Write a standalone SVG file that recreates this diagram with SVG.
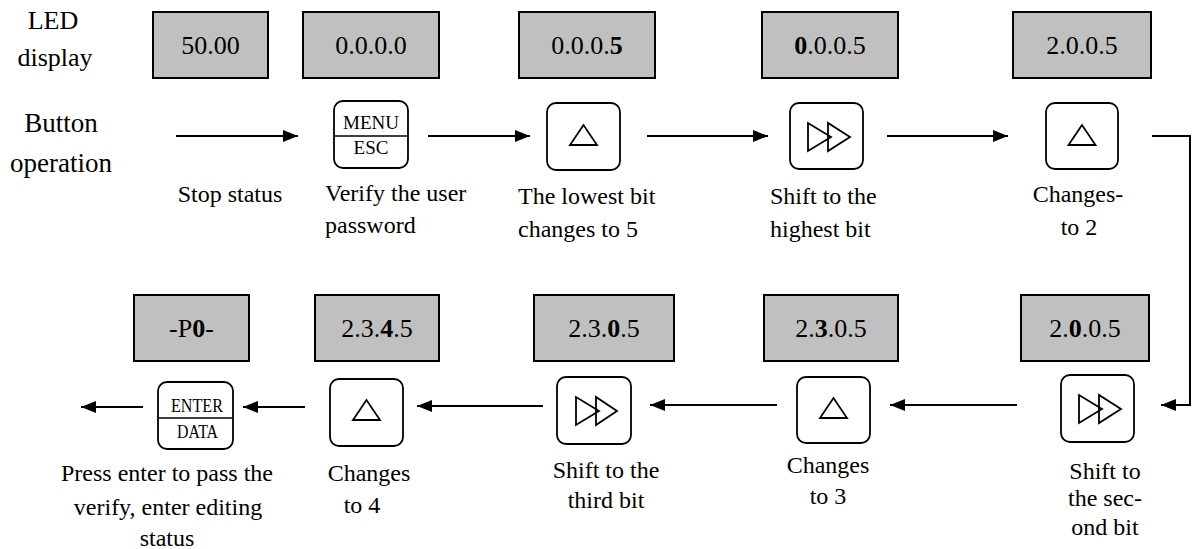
<svg xmlns="http://www.w3.org/2000/svg" width="1195" height="549" viewBox="0 0 1195 549" font-family="'Liberation Serif', 'Times New Roman', serif">
<defs>
<style>
.lbl,.hdr,.ledt,.key{font-family:'Liberation Serif','Times New Roman',serif}
.lbl{font-size:24px}
.hdr{font-size:26px;text-anchor:middle}
.led{fill:#c0c0c0;stroke:#000;stroke-width:2}
.ledt{font-size:26px;text-anchor:middle}
.btn{fill:#fff;stroke:#000;stroke-width:1.8}
.sym{fill:none;stroke:#000;stroke-width:1.8;stroke-linejoin:miter}
.key{font-size:19px;text-anchor:middle}
.mid{text-anchor:middle}
.con{fill:none;stroke:#000;stroke-width:2}
</style>
<marker id="ah" viewBox="0 0 15 12" refX="15" refY="6" markerWidth="15" markerHeight="12" markerUnits="userSpaceOnUse" orient="auto">
<path d="M0,0 L15,6 L0,12 Z" fill="#000"/>
</marker>
</defs>
<rect width="1195" height="549" fill="#fff"/>

<g id="headers" font-family="'Liberation Serif', serif">
<text class="hdr" x="53" y="29">LED</text>
<text class="hdr" x="55" y="66">display</text>
<text class="hdr" x="61" y="132" style="font-size:27px">Button</text>
<text class="hdr" x="61" y="172" style="font-size:27px">operation</text>
</g>

<g id="led1"><rect class="led" x="153" y="12" width="115" height="66"/><text class="ledt" x="210.5" y="54">50.00</text></g>
<g id="led2"><rect class="led" x="303" y="12" width="136" height="66"/><text class="ledt" x="371" y="54">0.0.0.0</text></g>
<g id="led3"><rect class="led" x="519" y="12" width="136" height="66"/><text class="ledt" x="587" y="54">0.0.0.<tspan font-weight="bold">5</tspan></text></g>
<g id="led4"><rect class="led" x="762" y="12" width="136" height="66"/><text class="ledt" x="830" y="54"><tspan font-weight="bold">0</tspan>.0.0.5</text></g>
<g id="led5"><rect class="led" x="1013" y="12" width="138" height="66"/><text class="ledt" x="1082" y="54">2.0.0.5</text></g>

<g id="led6"><rect class="led" x="1021" y="295" width="128" height="66"/><text class="ledt" x="1085" y="337">2.<tspan font-weight="bold">0</tspan>.0.5</text></g>
<g id="led7"><rect class="led" x="764" y="295" width="134" height="66"/><text class="ledt" x="831" y="337">2.<tspan font-weight="bold">3</tspan>.0.5</text></g>
<g id="led8"><rect class="led" x="534" y="295" width="140" height="66"/><text class="ledt" x="604" y="337">2.3.<tspan font-weight="bold">0</tspan>.5</text></g>
<g id="led9"><rect class="led" x="315" y="295" width="124" height="66"/><text class="ledt" x="377" y="337">2.3.<tspan font-weight="bold">4</tspan>.5</text></g>
<g id="led10"><rect class="led" x="134" y="295" width="115" height="66"/><text class="ledt" x="191.5" y="337">-P<tspan font-weight="bold">0</tspan>-</text></g>

<g id="btn-menu">
<rect class="btn" x="334" y="101" width="74" height="67" rx="9"/>
<line x1="335" y1="136" x2="407" y2="136" stroke="#000" stroke-width="1.5"/>
<text class="key" x="371" y="129">MENU</text>
<text class="key" x="371" y="154">ESC</text>
</g>
<g id="btn-up1">
<rect class="btn" x="547" y="103" width="73" height="67" rx="9"/>
<polygon class="sym" points="583.5,125 570,145 597,145"/>
</g>
<g id="btn-shift1">
<rect class="btn" x="790" y="103" width="73" height="66" rx="9"/>
<polygon class="sym" points="808,123 808,151 831,137"/>
<polygon class="sym" points="828,123 828,151 850,137"/>
</g>
<g id="btn-up2">
<rect class="btn" x="1046" y="103" width="72" height="66" rx="9"/>
<polygon class="sym" points="1082,125 1068.5,145 1095.5,145"/>
</g>

<g id="btn-shift2">
<rect class="btn" x="1061" y="375" width="73" height="67" rx="9"/>
<polygon class="sym" points="1079,395 1079,423 1102,409"/>
<polygon class="sym" points="1099,395 1099,423 1121,409"/>
</g>
<g id="btn-up3">
<rect class="btn" x="797" y="377" width="73" height="66" rx="9"/>
<polygon class="sym" points="833.5,398 820,418 847,418"/>
</g>
<g id="btn-shift3">
<rect class="btn" x="557" y="377" width="74" height="67" rx="9"/>
<polygon class="sym" points="576,397 576,425 599,411"/>
<polygon class="sym" points="596,397 596,425 617,411"/>
</g>
<g id="btn-up4">
<rect class="btn" x="330" y="379" width="73" height="67" rx="9"/>
<polygon class="sym" points="366.5,400 353,420 380,420"/>
</g>
<g id="btn-enter">
<rect class="btn" x="158" y="382" width="75" height="67" rx="9"/>
<line x1="159" y1="418" x2="232" y2="418" stroke="#000" stroke-width="1.5"/>
<text class="key" x="197" y="412" textLength="52" lengthAdjust="spacingAndGlyphs">ENTER</text>
<text class="key" x="197.5" y="438" textLength="41" lengthAdjust="spacingAndGlyphs">DATA</text>
</g>

<g id="labels" class="lbl" font-family="'Liberation Serif', serif">
<text class="mid" x="230" y="202">Stop status</text>
<text x="325" y="201">Verify the user</text>
<text x="325" y="233">password</text>
<text x="518" y="204">The lowest bit</text>
<text x="518" y="237">changes to 5</text>
<text x="770" y="204">Shift to the</text>
<text x="770" y="237">highest bit</text>
<text class="mid" x="1078" y="202">Changes-</text>
<text class="mid" x="1079" y="235">to 2</text>
<text class="mid" x="1105" y="479">Shift to</text>
<text class="mid" x="1105" y="506">the sec-</text>
<text class="mid" x="1105" y="535">ond bit</text>
<text class="mid" x="828" y="473">Changes</text>
<text class="mid" x="828" y="504">to 3</text>
<text class="mid" x="606" y="478">Shift to the</text>
<text class="mid" x="606" y="508">third bit</text>
<text class="mid" x="369" y="481">Changes</text>
<text class="mid" x="362" y="513">to 4</text>
<text class="mid" x="167" y="481">Press enter to pass the</text>
<text class="mid" x="168" y="515">verify, enter editing</text>
<text class="mid" x="167" y="546">status</text>
</g>

<g id="connectors" class="con">
<line x1="176" y1="136" x2="298" y2="136" marker-end="url(#ah)"/>
<line x1="428" y1="136" x2="530" y2="136" marker-end="url(#ah)"/>
<line x1="647" y1="136" x2="768" y2="136" marker-end="url(#ah)"/>
<line x1="887" y1="136" x2="1008" y2="136" marker-end="url(#ah)"/>
<polyline points="1152,136 1190,136 1190,405 1161,405" marker-end="url(#ah)"/>
<line x1="1017" y1="405" x2="890" y2="405" marker-end="url(#ah)"/>
<line x1="777" y1="405" x2="650" y2="405" marker-end="url(#ah)"/>
<line x1="543" y1="406" x2="417" y2="406" marker-end="url(#ah)"/>
<line x1="305" y1="407" x2="243" y2="407" marker-end="url(#ah)"/>
<line x1="143" y1="407" x2="81" y2="407" marker-end="url(#ah)"/>
</g>
</svg>
